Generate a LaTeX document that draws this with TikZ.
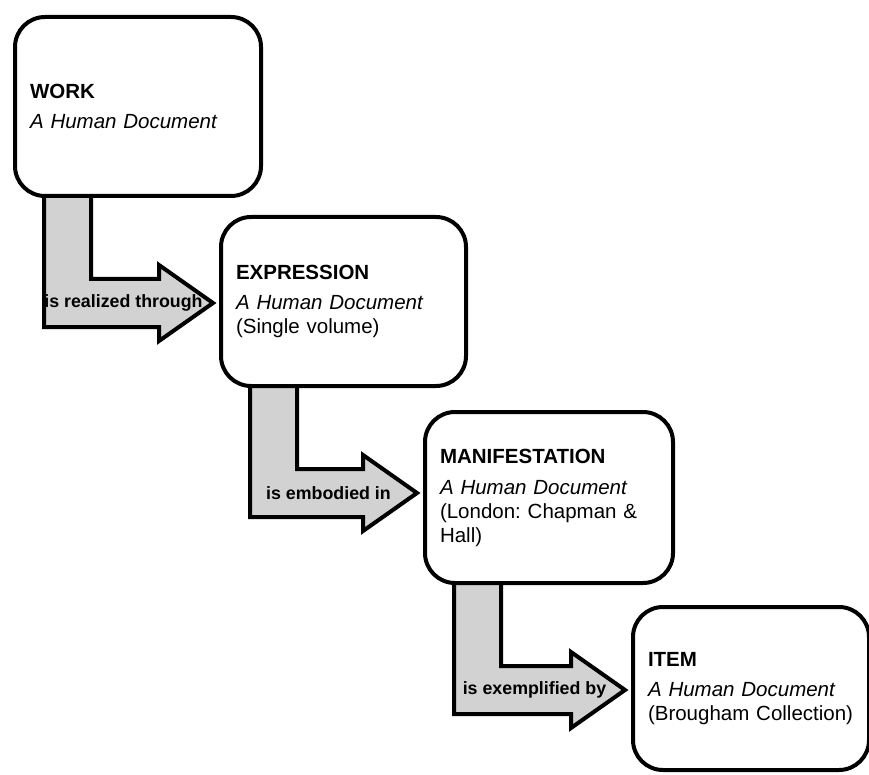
\documentclass[tikz,border=0pt]{standalone}
\usepackage{fontspec}
\setmainfont{Liberation Sans}
\usetikzlibrary{calc,backgrounds}
\tikzset{
	entity/.style={draw, line width=4pt, rounded corners=30pt, fill=white, anchor=north west,
		align=left, inner xsep=15pt, inner ysep=0pt, font=\fontsize{20.5pt}{24pt}\selectfont\frenchspacing},
	bentarrow/.style={draw, line width=4pt, fill=gray!35, line join=miter},
	rellabel/.style={font=\fontsize{17.8pt}{20pt}\selectfont\bfseries, inner sep=0pt}
}
\begin{document}
\begin{tikzpicture}[x=1pt, y=1pt]
	\useasboundingbox (0,0) rectangle (869,-775);
	\node[entity, minimum width=246pt, minimum height=179pt, text width=216pt] (work) at (13,-15)
		{\textbf{WORK}\\[6pt]\textit{A Human Document}};
	\node[entity, minimum width=245pt, minimum height=169pt, text width=215pt] (expr) at (219,-215)
		{\textbf{EXPRESSION}\\[6pt]\textit{A Human Document}\\(Single volume)};
	\node[entity, minimum width=248pt, minimum height=171pt, text width=218pt] (manif) at (423,-410)
		{\textbf{MANIFESTATION}\\[7pt]\textit{A Human Document}\\(London: Chapman \&\\Hall)};
	\node[entity, minimum width=234pt, minimum height=163pt, text width=206pt] (item) at (631,-605)
		{\textbf{ITEM}\\[6pt]\textit{A Human Document}\\(Brougham Collection)};
	% relationship arrows, behind the boxes
	\begin{scope}[on background layer]
		\foreach \from/\to/\txt in {work/expr/is realized through, expr/manif/is embodied in, manif/item/is exemplified by}
			\draw[bentarrow] let \p1=(\from.south west), \p2=(\to.west) in
				(\x1+31pt,\y1+12pt) -- (\x1+31pt,\y1-129pt) -- (\x2-60pt,\y1-129pt) -- (\x2-60pt,\y1-143pt)
				-- (\x2-6pt,\y1-105pt) -- (\x2-60pt,\y1-67pt) -- (\x2-60pt,\y1-81pt)
				-- (\x1+78pt,\y1-81pt) -- (\x1+78pt,\y1+12pt) -- cycle
				node[rellabel] (\from-rel) at ({(\x1+\x2)/2+7.5pt},\y1-105pt) {\txt};
	\end{scope}
\end{tikzpicture}
\end{document}
